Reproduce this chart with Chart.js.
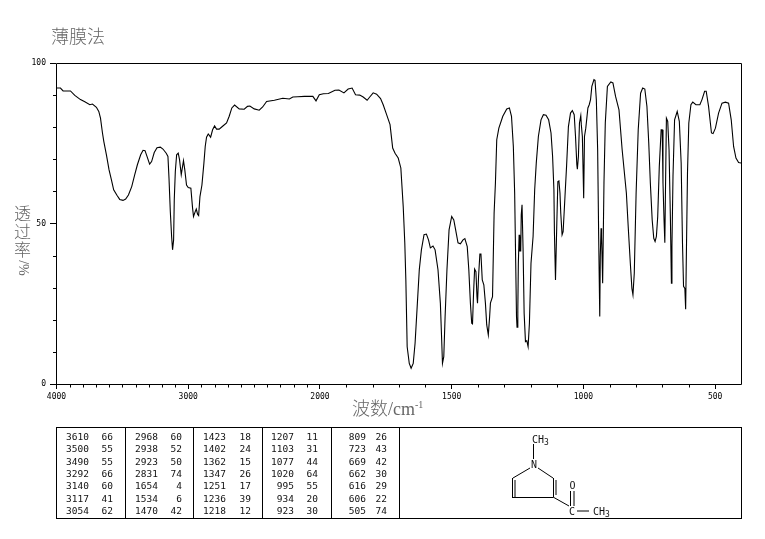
<!DOCTYPE html>
<html>
<head>
<meta charset="utf-8">
<style>
body { margin: 0; background: #fff; }
#page { position: relative; width: 765px; height: 539px; overflow: hidden; }
canvas { position: absolute; left: 0; top: 0; }
.label { position: absolute; color: #666; white-space: nowrap; font-family: "Noto Sans CJK SC", "Liberation Serif", serif; font-weight: 300; }
#peaks { position: absolute; left: 56px; top: 427px; width: 686px; height: 92px; border: 1px solid #000; box-sizing: border-box; }
.divider { position: absolute; top: 0; bottom: 0; width: 1px; background: #000; }
.cell { position: absolute; font: 9.5px "DejaVu Sans Mono", monospace; color: #111; text-align: right; line-height: 12px; }
svg { position: absolute; left: 0; top: 0; }
svg text { font: 10px "DejaVu Sans Mono", monospace; fill: #111; }
svg line { stroke: #000; stroke-width: 1; }
</style>
</head>
<body>
<div id="page">
  <canvas id="irChart" width="765" height="539"></canvas>
  <div class="label" style="left:51px;top:23px;font-size:18px;line-height:24px;">薄膜法</div>
  <div class="label" style="left:14px;top:204px;font-size:17px;line-height:18px;text-align:center;">透<br>过<br>率</div>
  <div class="label" style="left:14px;top:259px;width:17px;height:18px;font-size:14px;line-height:17px;text-align:center;font-family:'Liberation Serif',serif;transform:rotate(90deg);">/%</div>
  <div class="label" style="left:352px;top:396px;font-size:18px;line-height:22px;">波数<span style="font-family:'Liberation Serif',serif;">/cm<sup style="font-size:10px;line-height:0;">-1</sup></span></div>
  <div id="peaks"></div>
  <svg width="765" height="539">
    <line x1="533.5" y1="444" x2="533.5" y2="459"/>
    <line x1="530" y1="468" x2="513" y2="478"/>
    <line x1="512.5" y1="478" x2="512.5" y2="497.5"/>
    <line x1="515" y1="480" x2="515" y2="497"/>
    <line x1="512" y1="497.5" x2="553" y2="497.5"/>
    <line x1="553.5" y1="497" x2="553.5" y2="478"/>
    <line x1="556" y1="495" x2="556" y2="480"/>
    <line x1="553" y1="478" x2="538" y2="468"/>
    <line x1="553" y1="497" x2="569" y2="506"/>
    <line x1="570.5" y1="491" x2="570.5" y2="506"/>
    <line x1="574" y1="491" x2="574" y2="506"/>
    <line x1="577" y1="511" x2="589" y2="511"/>
    <text x="532" y="443">CH<tspan font-size="8" dy="2">3</tspan></text>
    <text x="531" y="468">N</text>
    <text x="569.5" y="489">O</text>
    <text x="569" y="515">C</text>
    <text x="593" y="515">CH<tspan font-size="8" dy="2">3</tspan></text>
  </svg>
</div>
<script src="https://cdn.jsdelivr.net/npm/chart.js@4/dist/chart.umd.js"></script>
<script>
// 光谱曲线
const waveNumbers = [4000,3970,3950,3894,3861,3818,3785,3747,3727,3697,3679,3666,3651,3641,3621,3601,3583,3566,3540,3520,3495,3475,3454,3429,3406,3386,3361,3343,3328,3313,3293,3278,3258,3237,3212,3192,3167,3154,3146,3136,3126,3119,3111,3106,3098,3088,3076,3066,3053,3043,3036,3026,3013,3000,2980,2967,2960,2947,2939,2929,2921,2911,2896,2881,2871,2861,2848,2830,2815,2800,2785,2765,2739,2709,2689,2669,2648,2613,2575,2550,2532,2499,2461,2435,2405,2346,2282,2232,2206,2168,2118,2054,2030,2005,1987,1968,1943,1928,1909,1893,1878,1865,1849,1836,1821,1811,1798,1785,1770,1760,1747,1734,1724,1715,1703,1693,1684,1678,1674,1669,1661,1654,1646,1639,1631,1623,1615,1605,1596,1588,1581,1571,1563,1552,1543,1538,1535,1530,1525,1518,1510,1500,1492,1485,1476,1467,1457,1450,1441,1435,1429,1424,1421,1417,1413,1408,1404,1402,1398,1393,1389,1384,1378,1372,1367,1361,1356,1353,1345,1339,1334,1329,1321,1306,1291,1281,1273,1266,1261,1257,1254,1252,1249,1247,1244,1243,1241,1238,1236,1233,1229,1225,1220,1215,1210,1205,1199,1191,1185,1179,1171,1161,1152,1142,1132,1123,1117,1112,1110,1106,1101,1097,1093,1089,1086,1081,1077,1070,1064,1057,1049,1042,1035,1030,1025,1023,1019,1015,1010,1008,1004,999,996,991,983,978,973,968,960,956,951,946,942,938,936,933,931,927,922,917,909,896,888,878,865,853,837,830,822,816,812,807,800,792,783,775,767,759,752,746,739,733,728,723,718,712,705,701,698,694,691,689,685,680,675,670,666,664,660,654,644,636,629,624,620,615,612,610,605,600,592,585,573,558,550,540,534,525,514,508,499,487,474,461,449,439,430,421,411,400];
const transmittance = [92.2,92.2,91.3,91.3,89.9,88.6,87.9,87,87.2,86.2,84.9,82.8,78.2,75.6,71.4,66.7,63.6,60.5,58.7,57.5,57.2,57.6,58.9,61.5,65.2,68.3,71.4,72.8,72.7,70.9,68.5,69.3,72.1,73.6,73.8,73.2,71.9,70.9,64.1,53.7,45.9,41.8,44.9,57.4,66.2,71.4,71.9,69.9,65.2,67.8,69.6,66.7,62,61.2,61,54.8,52.2,53.7,54.5,52.9,52.5,58.4,62,68.8,74,76.9,77.9,76.9,79.2,80.4,79.4,79.4,80.3,81.3,83.4,86,86.9,85.7,85.6,86.5,86.6,85.7,85.3,86.3,88,88.4,89,88.8,89.4,89.5,89.6,89.6,88.2,90.1,90.4,90.5,91.5,91.6,90.7,91.9,92.2,90.1,90,89.4,88.4,89.4,90.7,90.3,88.9,87,83.9,80.8,73.5,71.9,70.4,67.3,55.3,43.9,32.4,11.6,6.4,4.9,6.4,12.7,24.1,35.6,41.8,46.5,46.7,44.9,42.4,43,41.8,35.6,25.2,13.7,6.4,8.5,21,35.6,48,52.2,51.1,48,44,43.7,44.9,45.3,42.8,35.6,25.2,18.9,18.7,28.3,35.8,35,27.2,25.2,33.5,40.5,40.5,32.4,30.9,25.2,18.4,15.3,21,25.2,27.2,53.2,62.6,76.1,79.7,83.4,85.7,86,83.4,74,59.5,37.6,21,17.7,23,37.6,46.5,41.3,46.5,41.3,52.7,55.8,41.8,22,13.2,13.5,11.6,18.9,37.6,46,60.5,68.8,77.1,82.3,83.9,83.7,82.3,78.2,70.9,60.5,47,32.4,50.1,63.1,63.3,59.5,53.2,46.5,47.5,58.4,67.8,80.2,84.4,85.2,83.9,77.1,68.3,66.9,70.9,81.3,83.6,80.8,77.1,57.9,77.1,79.7,86,87,88.6,92.7,94.8,94.6,88.6,73,45.2,21,39.7,48.5,46,31.4,62.6,81.3,92.7,94.1,93.8,89.6,85.4,73,59.5,49,37.6,29.8,27.8,34.5,59.5,79.2,90.6,92.2,91.9,86.5,75,62.6,51.1,45.4,44.4,46,52.2,67.8,79.2,79.2,62.6,51.1,44,57.4,82.8,81.8,73,52.2,31.4,42.8,64.7,82.3,84.9,81.8,68.8,43.9,30.4,29.8,23.3,35.6,65.7,81.3,87,87.8,87,87,88.6,91.2,91.2,86.5,78.2,78,79.7,84.4,87.5,87.8,87.5,82.3,74,70.4,69,68.8];

// 刻度
const xMajorTicks = [4000,3000,2000,1500,1000,500];
const xMinorTicks = [3900,3800,3700,3600,3500,3400,3300,3200,3100,2900,2800,2700,2600,2500,2400,2300,2200,2100,1900,1800,1700,1600,1400,1300,1200,1100,900,800,700,600];
const yMajorTicks = [0,50,100];
const yMinorTicks = [10,20,30,40,60,70,80,90];

// 峰值表
const peakWave = [3610,3500,3490,3292,3140,3117,3054,2968,2938,2923,2831,1654,1534,1470,1423,1402,1362,1347,1251,1236,1218,1207,1103,1077,1020,995,934,923,809,723,669,662,616,606,505];
const peakPercent = [66,55,55,66,60,41,62,60,52,50,74,4,6,42,18,24,15,26,17,39,12,11,31,44,64,55,20,30,26,43,42,30,29,22,74];

// 表格
const peaksBox = document.getElementById('peaks');
const waveRight = [32, 101, 169, 237, 309];
const percentRight = [56, 125, 194, 261, 330];
[68, 136, 205, 274, 342].forEach(function (x) {
    const d = document.createElement('div');
    d.className = 'divider';
    d.style.left = x + 'px';
    peaksBox.appendChild(d);
});
function addCell(text, right, top) {
    const c = document.createElement('div');
    c.className = 'cell';
    c.textContent = text;
    c.style.right = (684 - right) + 'px';
    c.style.top = top + 'px';
    peaksBox.appendChild(c);
}
peakWave.forEach(function (w, i) {
    const col = Math.floor(i / 7);
    const top = 3 + (i % 7) * 12.35;
    addCell(w, waveRight[col], top);
    addCell(peakPercent[i], percentRight[col], top);
});

// 2000以下的横轴比例放大一倍
class SplitWaveScale extends Chart.LinearScale {
    getPixelForValue(v) {
        const f = v >= 2000 ? 4000 - v : 2000 + (2000 - v) * 2;
        return this.left + 0.5 + this.width * f / 5200;
    }
    getValueForPixel(p) {
        const f = (p - this.left - 0.5) / this.width * 5200;
        return f <= 2000 ? 4000 - f : 2000 - (f - 2000) / 2;
    }
}
SplitWaveScale.id = 'splitWave';
SplitWaveScale.defaults = Chart.LinearScale.defaults;
Chart.register(SplitWaveScale);

// 边框和短刻度
const framePlugin = {
    id: 'frame',
    afterDatasetsDraw(chart) {
        const ctx = chart.ctx, a = chart.chartArea, sx = chart.scales.x, sy = chart.scales.y;
        ctx.save();
        ctx.strokeStyle = '#000';
        ctx.lineWidth = 1;
        ctx.beginPath();
        ctx.moveTo(a.left + 0.5, a.bottom + 0.5);
        ctx.lineTo(a.left + 0.5, a.top + 0.5);
        ctx.lineTo(a.right + 0.5, a.top + 0.5);
        ctx.lineTo(a.right + 0.5, a.bottom + 0.5);
        ctx.lineTo(a.left + 0.5, a.bottom + 0.5);
        xMinorTicks.forEach(function (v) {
            const x = Math.round(sx.getPixelForValue(v)) + 0.5;
            ctx.moveTo(x, a.bottom);
            ctx.lineTo(x, a.bottom + 3.5);
        });
        yMinorTicks.forEach(function (v) {
            const y = Math.round(sy.getPixelForValue(v)) + 0.5;
            ctx.moveTo(a.left, y);
            ctx.lineTo(a.left - 3, y);
        });
        ctx.stroke();
        ctx.restore();
    }
};

new Chart(document.getElementById('irChart').getContext('2d'), {
    type: 'line',
    data: {
        datasets: [{
            data: waveNumbers.map(function (w, i) { return { x: w, y: transmittance[i] }; }),
            borderColor: '#000',
            borderWidth: 1.1,
            pointRadius: 0,
            tension: 0,
            fill: false
        }]
    },
    options: {
        responsive: false,
        animation: false,
        events: [],
        layout: { padding: { left: 0, top: 63, right: 24, bottom: 125 } },
        plugins: { legend: { display: false }, tooltip: { enabled: false }, title: { display: false } },
        scales: {
            x: {
                type: 'splitWave',
                min: 400,
                max: 4000,
                afterBuildTicks: function (scale) {
                    scale.ticks = xMajorTicks.map(function (v) { return { value: v }; });
                },
                afterFit: function (scale) { scale.height = 30; },
                border: { display: false },
                grid: { drawOnChartArea: false, tickLength: 5, tickColor: '#000' },
                ticks: {
                    autoSkip: false,
                    maxRotation: 0,
                    padding: 3,
                    color: '#000',
                    font: { family: 'DejaVu Sans Mono', size: 8 },
                    callback: function (v) { return String(v); }
                }
            },
            y: {
                min: 0,
                max: 100,
                afterBuildTicks: function (scale) {
                    scale.ticks = yMajorTicks.map(function (v) { return { value: v }; });
                },
                afterFit: function (scale) { scale.width = 56; },
                border: { display: false },
                grid: { drawOnChartArea: false, tickLength: 6, tickColor: '#000' },
                ticks: {
                    padding: 4,
                    color: '#000',
                    font: { family: 'DejaVu Sans Mono', size: 8 },
                    callback: function (v) { return String(v); }
                }
            }
        }
    },
    plugins: [framePlugin]
});
</script>
</body>
</html>
